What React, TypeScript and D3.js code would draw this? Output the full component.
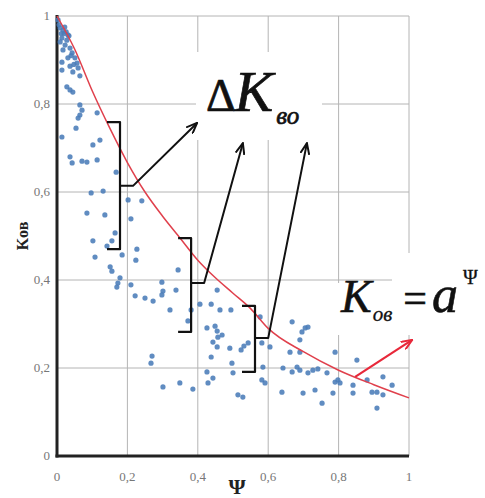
import React from "react";
import * as d3 from "d3";

const W = 485;
const H = 498;

// scatter data: [Ψ, Kов]
const pointsPsi = [
  0.003, 0.006, 0.009, 0.017, 0.026, 0.031, 0.014, 0.009, 0.023, 0.037, 0.017, 0.043, 0.031, 0.051, 0.057, 0.014, 0.037, 0.06, 0.014, 0.045,
  0.065, 0.028, 0.037, 0.045, 0.065, 0.071, 0.065, 0.06, 0.114, 0.054, 0.014, 0.122, 0.102, 0.037, 0.043, 0.071, 0.085, 0.114, 0.168, 0.097,
  0.131, 0.085, 0.136, 0.165, 0.156, 0.102, 0.108, 0.185, 0.202, 0.241, 0.21, 0.227, 0.142, 0.224, 0.151, 0.156, 0.179, 0.173, 0.17, 0.21,
  0.222, 0.25, 0.273, 0.298, 0.301, 0.298, 0.338, 0.344, 0.321, 0.381, 0.372, 0.406, 0.438, 0.455, 0.463, 0.494, 0.426, 0.449, 0.455, 0.457,
  0.469, 0.443, 0.455, 0.438, 0.491, 0.523, 0.531, 0.543, 0.27, 0.267, 0.426, 0.443, 0.429, 0.497, 0.5, 0.301, 0.349, 0.386, 0.514, 0.528,
  0.577, 0.582, 0.605, 0.585, 0.582, 0.591, 0.668, 0.696, 0.705, 0.713, 0.69, 0.662, 0.69, 0.79, 0.642, 0.668, 0.682, 0.69, 0.713, 0.727,
  0.741, 0.767, 0.79, 0.798, 0.804, 0.852, 0.639, 0.699, 0.733, 0.753, 0.784, 0.841, 0.841, 0.881, 0.895, 0.909, 0.926, 0.926, 0.952, 0.909,
  0.02, 0.028, 0.04, 0.048, 0.012, 0.022, 0.034,
];
const pointsK = [
  0.991, 0.98, 0.973, 0.968, 0.964, 0.957, 0.95, 0.941, 0.934, 0.927, 0.923, 0.916, 0.905, 0.905, 0.893, 0.895, 0.886, 0.882, 0.877, 0.873,
  0.864, 0.839, 0.832, 0.827, 0.798, 0.786, 0.775, 0.768, 0.78, 0.745, 0.725, 0.718, 0.707, 0.68, 0.666, 0.67, 0.668, 0.673, 0.645, 0.598,
  0.602, 0.552, 0.548, 0.507, 0.489, 0.489, 0.452, 0.457, 0.582, 0.58, 0.539, 0.47, 0.477, 0.445, 0.43, 0.42, 0.405, 0.393, 0.384, 0.389,
  0.364, 0.359, 0.352, 0.395, 0.375, 0.366, 0.377, 0.423, 0.332, 0.332, 0.307, 0.345, 0.345, 0.377, 0.332, 0.332, 0.291, 0.295, 0.284, 0.27,
  0.275, 0.259, 0.248, 0.225, 0.245, 0.241, 0.25, 0.257, 0.227, 0.211, 0.191, 0.177, 0.166, 0.211, 0.189, 0.157, 0.166, 0.152, 0.139, 0.134,
  0.316, 0.257, 0.248, 0.202, 0.173, 0.166, 0.305, 0.282, 0.291, 0.293, 0.264, 0.236, 0.236, 0.236, 0.2, 0.191, 0.202, 0.195, 0.189, 0.195,
  0.198, 0.189, 0.168, 0.173, 0.166, 0.218, 0.145, 0.143, 0.15, 0.12, 0.143, 0.161, 0.143, 0.173, 0.145, 0.145, 0.18, 0.139, 0.161, 0.109,
  0.96, 0.945, 0.91, 0.89, 0.96, 0.975, 0.955,
];

// fitted curve K = a^Ψ
const curvePsi = [0, 0.05, 0.1, 0.15, 0.2, 0.25, 0.3, 0.35, 0.4, 0.45, 0.5, 0.55, 0.6, 0.7, 0.8, 0.9, 1];
const curveK = [1.0, 0.925, 0.83, 0.745, 0.667, 0.6, 0.545, 0.495, 0.445, 0.405, 0.37, 0.335, 0.29, 0.237, 0.195, 0.162, 0.132];

const tickValues = [0, 0.2, 0.4, 0.6, 0.8, 1];
const tickLabels = ["0", "0,2", "0,4", "0,6", "0,8", "1"];

// brackets: Ψ position, top, bottom, notch K, notch end Ψ, arrow tip
const bracketPsi = [0.179, 0.381, 0.5625];
const bracketTop = [0.759, 0.495, 0.341];
const bracketBottom = [0.47, 0.282, 0.191];
const bracketNotch = [0.614, 0.393, 0.268];
const bracketNotchEnd = [0.216, 0.418, 0.6];
const arrowTipPsi = [0.398, 0.528, 0.71];
const arrowTipK = [0.757, 0.711, 0.711];

const redArrowFrom = [0.847, 0.18];
const redArrowTo = [1.009, 0.264];

export default function App() {
  const x = d3.scaleLinear().domain([0, 1]).range([57, 409]);
  const y = d3.scaleLinear().domain([0, 1]).range([456, 16]);

  const line = d3
    .line<number>()
    .x((_, i) => x(curvePsi[i]))
    .y((d) => y(d))
    .curve(d3.curveMonotoneX);

  const serif = "Liberation Serif, Times New Roman, serif";
  const grid = "#b4b4b4";

  return (
    <svg width={W} height={H} style={{ position: "absolute", left: 0, top: 0, background: "#fff" }}>
      <defs>
        <marker id="ah" viewBox="0 0 12 10" refX="11" refY="5" markerWidth="12" markerHeight="10" markerUnits="userSpaceOnUse" orient="auto">
          <path d="M0,0.5 L11,5 L0,9.5" fill="none" stroke="#111" strokeWidth={2} />
        </marker>
        <marker id="ahr" viewBox="0 0 12 10" refX="11" refY="5" markerWidth="12" markerHeight="10" markerUnits="userSpaceOnUse" orient="auto">
          <path d="M0,0.5 L11,5 L0,9.5" fill="none" stroke="#e8283a" strokeWidth={2} />
        </marker>
      </defs>
      <rect width={W} height={H} fill="#fff" />
      {/* grid */}
      {tickValues.slice(1).map((t) => (
        <line key={"v" + t} x1={x(t)} x2={x(t)} y1={y(0)} y2={y(1)} stroke={grid} strokeWidth={1} />
      ))}
      {tickValues.slice(1).map((t) => (
        <line key={"h" + t} x1={x(0)} x2={x(1)} y1={y(t)} y2={y(t)} stroke={grid} strokeWidth={1} />
      ))}
      {/* white backgrounds of labels */}
      <rect x={196} y={52} width={126} height={88} fill="#fff" />
      <rect x={332} y={283} width={153} height={52} fill="#fff" />
      <rect x={392} y={253} width={93} height={34} fill="#fff" />
      {/* axes */}
      <line x1={x(0)} x2={x(0)} y1={y(1) - 1} y2={y(0) + 1.5} stroke="#222" strokeWidth={3} />
      <line x1={x(0) - 1.5} x2={x(1)} y1={y(0)} y2={y(0)} stroke="#222" strokeWidth={3} />
      {/* tick labels */}
      {tickValues.map((t, i) => (
        <text key={"yl" + t} x={50} y={y(t) + 4} textAnchor="end" fontFamily={serif} fontSize={13} fill="#777">
          {tickLabels[i]}
        </text>
      ))}
      {tickValues.map((t, i) => (
        <text key={"xl" + t} x={x(t)} y={481} textAnchor="middle" fontFamily={serif} fontSize={13} fill="#777">
          {tickLabels[i]}
        </text>
      ))}
      {/* axis titles */}
      <text transform={`translate(28,236) rotate(-90)`} textAnchor="middle" fontFamily={serif} fontSize={16} fontWeight="bold" fill="#222">
        Kов
      </text>
      <text x={237} y={494} textAnchor="middle" fontFamily={serif} fontSize={22} fontWeight="bold" fill="#222">
        Ψ
      </text>
      {/* points */}
      {pointsPsi.map((p, i) => (
        <circle key={"p" + i} cx={x(p)} cy={y(pointsK[i])} r={2.6} fill="#4a7cb8" fillOpacity={0.88} />
      ))}
      {/* curve */}
      <path d={line(curveK) || ""} fill="none" stroke="#e0404c" strokeWidth={1.5} />
      {/* brackets and arrows */}
      {bracketPsi.map((b, i) => {
        const bx = x(b);
        const serifLen = 13;
        const d = `M${bx - serifLen},${y(bracketTop[i])} L${bx},${y(bracketTop[i])} L${bx},${y(bracketBottom[i])} L${bx - serifLen},${y(bracketBottom[i])}`;
        const n = `M${bx},${y(bracketNotch[i])} L${x(bracketNotchEnd[i])},${y(bracketNotch[i])} L${x(arrowTipPsi[i])},${y(arrowTipK[i])}`;
        return (
          <g key={"b" + i}>
            <path d={d} fill="none" stroke="#111" strokeWidth={2.2} strokeLinejoin="round" />
            <path d={n} fill="none" stroke="#111" strokeWidth={2} strokeLinejoin="round" markerEnd="url(#ah)" />
          </g>
        );
      })}
      <line
        x1={x(redArrowFrom[0])}
        y1={y(redArrowFrom[1])}
        x2={x(redArrowTo[0])}
        y2={y(redArrowTo[1])}
        stroke="#e8283a"
        strokeWidth={2.2}
        markerEnd="url(#ahr)"
      />
      {/* ΔKво label */}
      <text x={206} y={111} fontFamily={serif} fill="#111" stroke="#111" strokeWidth={0.7}>
        <tspan fontSize={46}>Δ</tspan>
        <tspan fontSize={58} fontStyle="italic" dx={-1}>K</tspan>
        <tspan fontSize={25} fontStyle="italic" dy={13} dx={3}>во</tspan>
      </text>
      {/* Kов = a^Ψ label */}
      <text x={341} y={312} fontFamily={serif} fill="#111" stroke="#111" strokeWidth={0.6}>
        <tspan fontSize={46} fontStyle="italic">K</tspan>
        <tspan fontSize={21} fontStyle="italic" dy={9} dx={1} strokeWidth={0.3}>ов</tspan>
        <tspan fontSize={42} dy={-9} dx={11}>=</tspan>
        <tspan fontSize={52} fontStyle="italic" dx={5}>a</tspan>
        <tspan fontSize={20} dy={-28} dx={5} strokeWidth={0.3}>Ψ</tspan>
      </text>
    </svg>
  );
}
